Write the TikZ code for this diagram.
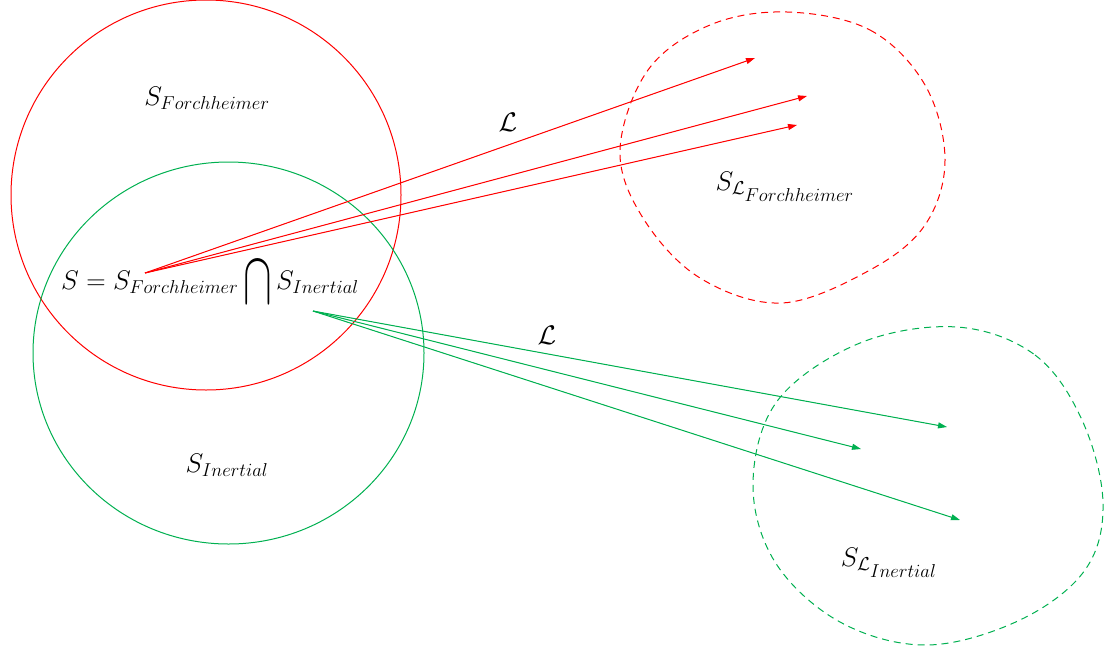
\documentclass[tikz,border=0pt]{standalone}
\usepackage{graphicx}
\usetikzlibrary{arrows.meta}
\definecolor{myred}{RGB}{255,0,0}
\definecolor{mygreen}{RGB}{0,176,80}
\newcommand\mybigcap{\mathop{\vcenter{\hbox{\scalebox{1.6}[2.8]{$\cap$}}}}}
\newcommand\mytxt[1]{\scalebox{1.08}{#1}}
\begin{document}
\begin{tikzpicture}[x=1pt,y=-1pt,
  setline/.style={line width=1pt},
  redset/.style={setline,draw=myred},
  greenset/.style={setline,draw=mygreen},
  imgset/.style={line width=1pt,dash pattern=on 7pt off 5pt},
  maparrow/.style={line width=1pt,-{Triangle[length=9pt,width=6pt]}},
  lbl/.style={inner sep=0pt,font=\fontsize{24}{28}\selectfont}]
\useasboundingbox (0,0) rectangle (1107,651);
% sets
\draw[redset] (206,195) circle[radius=195];
\draw[greenset] (228.5,353) ellipse[x radius=195.5,y radius=191];
% image sets
\draw[imgset,draw=myred] plot[smooth cycle,tension=0.6] coordinates {
 (787,12) (870,30) (925,85) (945,160) (925,225) (870,270) (782,303)
 (700,278) (643,218) (620,150) (648,70) (710,25)};
\draw[imgset,draw=mygreen] plot[smooth cycle,tension=0.6] coordinates {
 (957,327) (1035,355) (1082,420) (1103,503) (1085,570) (1020,620) (927,645)
 (840,622) (775,562) (753,483) (778,400) (860,343)};
% labels
\node[lbl] (sf) at (207,98) {\mytxt{$S_{Forchheimer}$}};
\node[lbl] (si) at (227,465) {\mytxt{$S_{Inertial}$}};
\node[lbl] (slf) at (785,187) {\mytxt{$S_{\mathcal{L}_{\scriptstyle Forchheimer}}$}};
\node[lbl] (sli) at (889,563) {\mytxt{$S_{\mathcal{L}_{\scriptstyle Inertial}}$}};
\node[lbl] (eq) at (210,283) {\mytxt{$S=S_{Forchheimer}\mybigcap S_{Inertial}$}};
\node[lbl] (l1) at (508,122) {\mytxt{$\mathcal{L}$}};
\node[lbl] (l2) at (547,335) {\mytxt{$\mathcal{L}$}};
% arrows
\coordinate (ro) at (145,273);
\coordinate (go) at (313,311);
\coordinate (rt1) at (755,58);
\coordinate (rt2) at (807,96);
\coordinate (rt3) at (797,125);
\coordinate (gt1) at (947,427);
\coordinate (gt2) at (861,449);
\coordinate (gt3) at (960,520);
\draw[maparrow,draw=myred,fill=myred] (ro) -- (rt1);
\draw[maparrow,draw=myred,fill=myred] (ro) -- (rt2);
\draw[maparrow,draw=myred,fill=myred] (ro) -- (rt3);
\draw[maparrow,draw=mygreen,fill=mygreen] (go) -- (gt1);
\draw[maparrow,draw=mygreen,fill=mygreen] (go) -- (gt2);
\draw[maparrow,draw=mygreen,fill=mygreen] (go) -- (gt3);
\end{tikzpicture}
\end{document}
